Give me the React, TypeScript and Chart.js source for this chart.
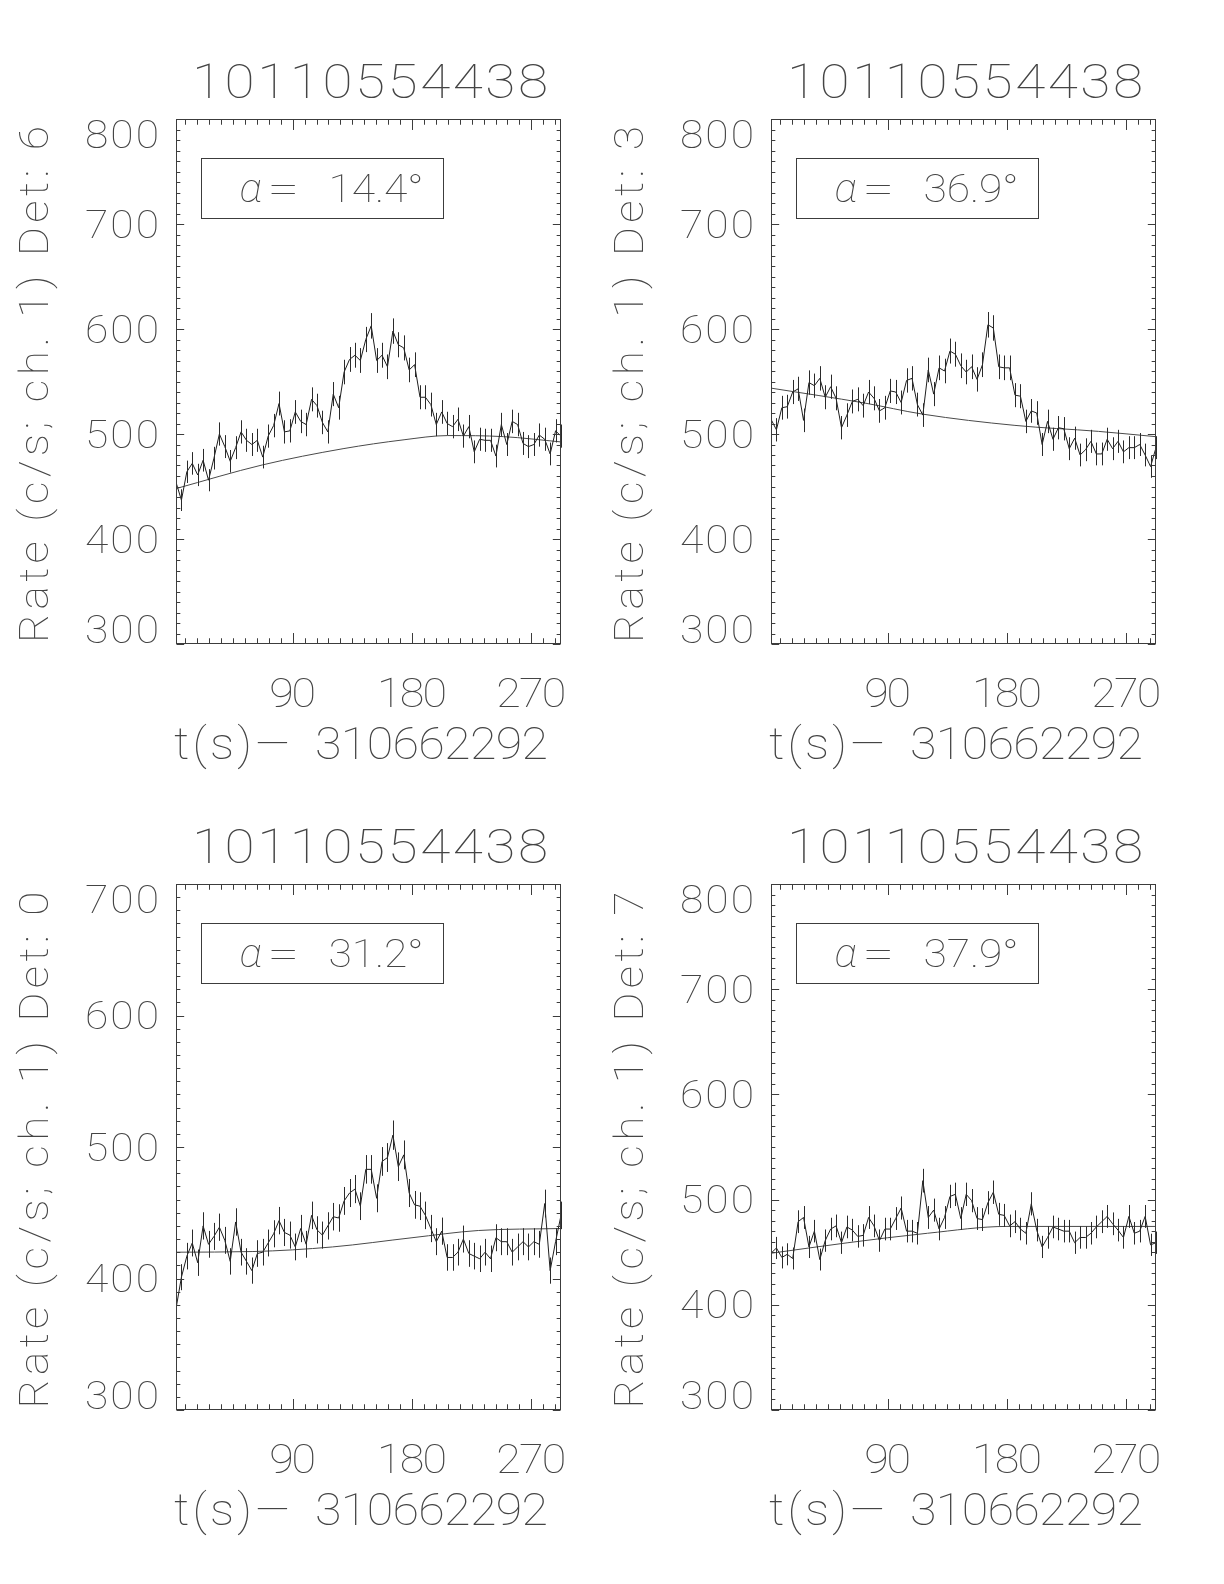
import React, { useEffect, useRef } from 'react';
import { Chart, registerables } from 'chart.js';

Chart.register(...registerables);

// ---------------- data ----------------
const OBS_ID = '10110554438';
const X_TITLE_PARTS = ['t(s)', '-', '310662292'];
const BIN_START = 2; // s, first bin centre
const BIN_WIDTH = 4.09; // s
const X_TICKS = [90, 180, 270];
const X_MINOR_STEP = 9;

const DET6_RATE = [
  454, 437, 464, 472, 461, 475, 456, 477, 500, 488, 474, 487, 502, 494, 490, 494, 478, 498,
  508, 529, 502, 503, 521, 512, 509, 533, 527, 511, 502, 538, 525, 559, 571, 575, 570, 590,
  603, 570, 575, 564, 598, 585, 582, 561, 566, 535, 535, 528, 509, 521, 510, 507, 514, 498,
  507, 483, 495, 494, 494, 479, 509, 490, 512, 509, 491, 488, 490, 499, 495, 481, 503, 498,
];
const DET6_BG_T = [2, 67, 128, 174, 207, 249, 292];
const DET6_BG = [448, 470.5, 486, 494.5, 498.5, 497.5, 492.5];

const DET3_RATE = [
  514, 504, 525, 526, 540, 543, 513, 549, 546, 553, 535, 545, 534, 506, 518, 531, 533, 527,
  540, 534, 522, 525, 541, 540, 530, 551, 553, 528, 518, 561, 538, 563, 560, 579, 576, 565,
  559, 564, 552, 566, 604, 601, 564, 563, 563, 537, 536, 512, 522, 520, 490, 512, 495, 506,
  505, 486, 496, 480, 485, 493, 481, 481, 495, 486, 493, 483, 487, 487, 490, 480, 469, 487,
];
const DET3_BG_T = [2, 73, 116, 186, 249, 292];
const DET3_BG = [543.7, 529.4, 519, 508.2, 502.5, 497.5];

const DET0_RATE = [
  377, 401, 417, 427, 412, 440, 426, 432, 439, 429, 413, 443, 420, 413, 406, 419, 420, 427,
  434, 444, 435, 433, 424, 438, 426, 448, 437, 433, 440, 447, 446, 459, 465, 468, 455, 483,
  483, 461, 489, 492, 509, 485, 494, 465, 456, 455, 448, 438, 428, 436, 416, 416, 420, 430,
  419, 417, 415, 420, 415, 431, 428, 428, 420, 424, 428, 424, 428, 426, 457, 406, 428, 448,
];
const DET0_BG_T = [2, 60, 120, 180, 230, 292];
const DET0_BG = [420, 420.5, 424, 431, 436.5, 438];

const DET7_RATE = [
  449, 454, 445, 448, 444, 479, 483, 455, 470, 443, 461, 472, 475, 459, 474, 471, 465, 466,
  483, 475, 461, 472, 472, 482, 492, 470, 470, 468, 518, 483, 490, 472, 483, 503, 505, 482,
  505, 499, 482, 481, 497, 507, 486, 485, 475, 479, 472, 468, 496, 471, 455, 464, 474, 472,
  470, 470, 459, 464, 464, 468, 474, 479, 484, 477, 471, 464, 484, 468, 470, 484, 457, 459,
];
const DET7_BG_T = [2, 60, 120, 180, 240, 292];
const DET7_BG = [449, 459, 468, 474.5, 474.5, 474.5];

const DETECTORS = ['6', '3', '0', '7'];
const ALPHAS = ['14.4', '36.9', '31.2', '37.9'];
const Y_RANGES = [
  [300, 800],
  [300, 800],
  [300, 700],
  [300, 800],
];
const Y_MAJOR = 100;
const Y_MINOR = 10;

// ---------------- layout ----------------
const CW = 612;
const CH = 792;
const FRAMES = [
  { cx: 0, cy: 0, l: 176, t: 119, r: 561, b: 644 },
  { cx: 612, cy: 0, l: 771, t: 119, r: 1156, b: 644 },
  { cx: 0, cy: 792, l: 176, t: 884, r: 561, b: 1410 },
  { cx: 612, cy: 792, l: 771, t: 884, r: 1156, b: 1410 },
];

const INK = '#3c3c3c';
const TXT = '#444444';
const FONT = 'Roboto, "DejaVu Sans", sans-serif';
const WEIGHT = 100;

type TxtOpts = { width?: number; hs?: number; style?: string };

function txt(
  ctx: CanvasRenderingContext2D,
  s: string,
  x: number,
  y: number,
  size: number,
  align: 'left' | 'center' | 'right',
  opts: TxtOpts = {},
) {
  ctx.save();
  ctx.font = `${opts.style || ''} ${WEIGHT} ${size}px ${FONT}`;
  ctx.textAlign = 'left';
  ctx.textBaseline = 'alphabetic';
  ctx.fillStyle = TXT;
  const hs = opts.hs ?? 1;
  const chars = Array.from(s);
  const widths = chars.map((c) => ctx.measureText(c).width * hs);
  const natural = widths.reduce((a, b) => a + b, 0);
  const total = opts.width ?? natural;
  const gap = opts.width != null && chars.length > 1 ? (opts.width - natural) / (chars.length - 1) : 0;
  let cx = x;
  if (align === 'center') cx = x - total / 2;
  else if (align === 'right') cx = x - total;
  chars.forEach((c, i) => {
    ctx.save();
    ctx.translate(cx, y);
    ctx.scale(hs, 1);
    ctx.fillText(c, 0, 0);
    ctx.restore();
    cx += widths[i] + gap;
  });
  ctx.restore();
  return total;
}

function makeIdlPlugin(idx: number, rate: number[]) {
  return {
    id: 'idl' + idx,
    afterDatasetsDraw(chart: any) {
      const ctx: CanvasRenderingContext2D = chart.ctx;
      const xs = chart.scales.x;
      const ys = chart.scales.y;
      ctx.save();
      ctx.strokeStyle = '#2a2a2a';
      ctx.lineWidth = 1;
      ctx.beginPath();
      rate.forEach((v, i) => {
        const t = BIN_START + BIN_WIDTH * i;
        const e = Math.sqrt(v / BIN_WIDTH);
        const px = Math.round(xs.getPixelForValue(t)) + 0.5;
        ctx.moveTo(px, ys.getPixelForValue(v + e));
        ctx.lineTo(px, ys.getPixelForValue(v - e));
      });
      ctx.stroke();
      ctx.restore();
    },
    afterDraw(chart: any) {
      const ctx: CanvasRenderingContext2D = chart.ctx;
      const xs = chart.scales.x;
      const ys = chart.scales.y;
      const ca = chart.chartArea;
      const L = ca.left + 0.5;
      const R = ca.right - 0.5;
      const T = ca.top + 0.5;
      const B = ca.bottom - 0.5;
      ctx.save();
      ctx.strokeStyle = INK;
      ctx.lineWidth = 1;
      ctx.strokeRect(L, T, R - L, B - T);
      const w = R - L;
      const h = B - T;
      const yMajLen = 0.02 * w;
      const xMajLen = 0.02 * h;
      ctx.beginPath();
      const [y0, y1] = Y_RANGES[idx];
      for (let v = y0; v <= y1 + 1e-6; v += Y_MINOR) {
        const major = Math.abs(v % Y_MAJOR) < 1e-6;
        const len = major ? yMajLen : yMajLen / 2;
        const py = Math.round(ys.getPixelForValue(v)) + 0.5;
        ctx.moveTo(L, py);
        ctx.lineTo(L + len, py);
        ctx.moveTo(R, py);
        ctx.lineTo(R - len, py);
      }
      const xmin = xs.min;
      const xmax = xs.max;
      for (let t = Math.ceil(xmin / X_MINOR_STEP) * X_MINOR_STEP; t <= xmax; t += X_MINOR_STEP) {
        const major = X_TICKS.includes(t);
        const len = major ? xMajLen : xMajLen / 2;
        const px = Math.round(xs.getPixelForValue(t)) + 0.5;
        ctx.moveTo(px, B);
        ctx.lineTo(px, B - len);
        ctx.moveTo(px, T);
        ctx.lineTo(px, T + len);
      }
      ctx.stroke();

      // y tick labels
      for (let v = y0; v <= y1 + 1e-6; v += Y_MAJOR) {
        let py = ys.getPixelForValue(v);
        if (v === y1) py += 15;
        if (v === y0) py -= 15;
        const s = String(v);
        txt(ctx, s, ca.left - 17, py + 13.5, 38, 'right', { hs: 1.12, width: 24.7 * s.length });
      }
      // x tick labels
      X_TICKS.forEach((t) => {
        const px = xs.getPixelForValue(t);
        const s = String(t);
        txt(ctx, s, px, ca.bottom + 63, 40, 'center', { hs: 1.12, width: 23.3 * s.length });
      });
      // x title: "t(s)- 310662292"
      const xl = ca.left;
      const by = ca.bottom + 115;
      txt(ctx, X_TITLE_PARTS[0], xl - 2, by, 44, 'left', { hs: 1.1, width: 78 });
      txt(ctx, X_TITLE_PARTS[1], xl + 97, by - 2, 44, 'center', { hs: 2.9 });
      txt(ctx, X_TITLE_PARTS[2], xl + 139, by, 44, 'left', { hs: 1.1, width: 233 });
      // title
      txt(ctx, OBS_ID, (ca.left + ca.right) / 2 + 1.5, ca.top - 21, 49, 'center', { hs: 1.12, width: 356 });
      // y title
      ctx.save();
      ctx.translate(ca.left - 128, (ca.top + ca.bottom) / 2 + 3);
      ctx.rotate(-Math.PI / 2);
      txt(ctx, `Rate (c/s; ch. 1) Det: ${DETECTORS[idx]}`, 0, 0, 41, 'center', { hs: 1.08, width: 517 });
      ctx.restore();

      // alpha box
      const bx = ca.left + 25.5;
      const bby = ca.top + 39.5;
      ctx.strokeStyle = INK;
      ctx.strokeRect(bx, bby, 242, 60);
      txt(ctx, 'α', bx + 38, bby + 43, 40, 'left', { style: 'italic', hs: 1.05 });
      txt(ctx, '=', bx + 66, bby + 43, 38, 'left', { hs: 1.5 });
      const a = `${ALPHAS[idx]}°`;
      txt(ctx, a, bx + 127, bby + 43, 38, 'left', { hs: 1.12, width: 95 });
      ctx.restore();
    },
  };
}

function Panel({ idx, rate, bgT, bg }: { idx: number; rate: number[]; bgT: number[]; bg: number[] }) {
  const ref = useRef<HTMLCanvasElement | null>(null);
  useEffect(() => {
    const f = FRAMES[idx];
    const l = f.l - f.cx;
    const t = f.t - f.cy;
    const r = CW - (f.r - f.cx);
    const b = CH - (f.b - f.cy);
    const pts = rate.map((v, i) => ({ x: BIN_START + BIN_WIDTH * i, y: v }));
    const bgPts = bgT.map((tt, i) => ({ x: tt, y: bg[i] }));
    const chart = new Chart(ref.current as HTMLCanvasElement, {
      type: 'line',
      data: {
        datasets: [
          {
            data: pts,
            borderColor: '#1e1e1e',
            borderWidth: 1,
            pointRadius: 0,
            tension: 0,
          },
          {
            data: bgPts,
            borderColor: '#4a4a4a',
            borderWidth: 1,
            pointRadius: 0,
            cubicInterpolationMode: 'monotone',
          },
        ],
      },
      options: {
        responsive: false,
        animation: false,
        devicePixelRatio: 1,
        layout: { padding: { left: l, top: t, right: r, bottom: b } },
        plugins: { legend: { display: false }, tooltip: { enabled: false }, title: { display: false } },
        scales: {
          x: { type: 'linear', display: false, min: BIN_START, max: BIN_START + BIN_WIDTH * (rate.length - 1) },
          y: { type: 'linear', display: false, min: Y_RANGES[idx][0], max: Y_RANGES[idx][1] },
        },
        elements: { line: { borderCapStyle: 'butt' } },
      } as any,
      plugins: [makeIdlPlugin(idx, rate)],
    });
    return () => chart.destroy();
  }, [idx, rate, bgT, bg]);
  const f = FRAMES[idx];
  return (
    <canvas
      ref={ref}
      width={CW}
      height={CH}
      style={{ position: 'absolute', left: f.cx, top: f.cy, width: CW, height: CH }}
    />
  );
}

export default function App() {
  return (
    <div style={{ position: 'absolute', left: 0, top: 0, width: 1224, height: 1584, background: '#fff' }}>
      <Panel idx={0} rate={DET6_RATE} bgT={DET6_BG_T} bg={DET6_BG} />
      <Panel idx={1} rate={DET3_RATE} bgT={DET3_BG_T} bg={DET3_BG} />
      <Panel idx={2} rate={DET0_RATE} bgT={DET0_BG_T} bg={DET0_BG} />
      <Panel idx={3} rate={DET7_RATE} bgT={DET7_BG_T} bg={DET7_BG} />
    </div>
  );
}
